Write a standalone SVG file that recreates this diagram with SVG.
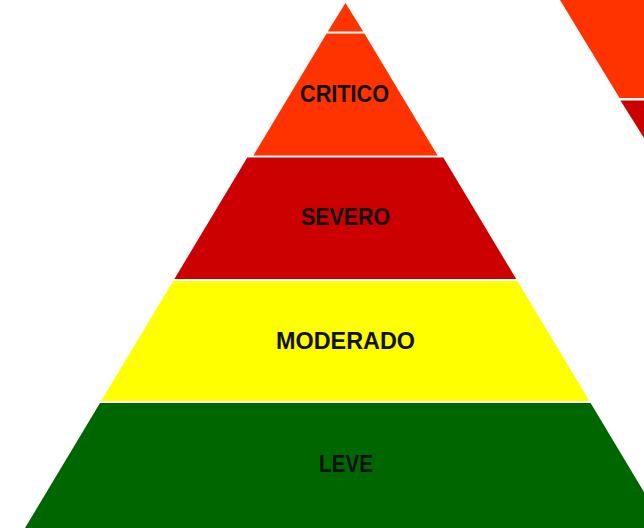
<svg xmlns="http://www.w3.org/2000/svg" width="644" height="528" viewBox="0 0 644 528">
  <style>
    .lbl { font-family: "Liberation Sans", Arial, sans-serif; font-weight: bold; font-size: 23px; fill: #111111; text-anchor: middle; }
    .orange { fill: #FF3300; }
    .red { fill: #CC0000; }
    .yellow { fill: #FFFF00; }
    .green { fill: #006600; }
  </style>
  <rect x="0" y="0" width="644" height="528" fill="#FFFFFF"/>
  <g id="pyramid-right-partial">
    <polygon class="orange" points="560,0 644,0 644,98 619.5,98"/>
    <polygon class="red" points="620.5,100.5 644,100.5 644,138"/>
  </g>
  <g id="layer-top">
    <polygon class="orange" points="345.5,3 363.2,31.5 327.8,31.5"/>
  </g>
  <g id="layer-critico">
    <polygon class="orange" points="326.6,33.5 364.4,33.5 437.6,155.5 253.4,155.5"/>
    <text class="lbl" x="344.5" y="102" textLength="89" lengthAdjust="spacingAndGlyphs">CRITICO</text>
  </g>
  <g id="layer-severo">
    <polygon class="red" points="247.3,157.5 443.3,157.5 516.2,279 174.4,279"/>
    <text class="lbl" x="345.5" y="225" textLength="89" lengthAdjust="spacingAndGlyphs">SEVERO</text>
  </g>
  <g id="layer-moderado">
    <polygon class="yellow" points="173.2,281 517.4,281 589.4,401 101.2,401"/>
    <text class="lbl" x="345.5" y="349" textLength="139" lengthAdjust="spacingAndGlyphs">MODERADO</text>
  </g>
  <g id="layer-leve">
    <polygon class="green" points="100,403 590.6,403 665.6,528 25,528"/>
    <text class="lbl" x="346" y="472" textLength="54" lengthAdjust="spacingAndGlyphs">LEVE</text>
  </g>
</svg>
